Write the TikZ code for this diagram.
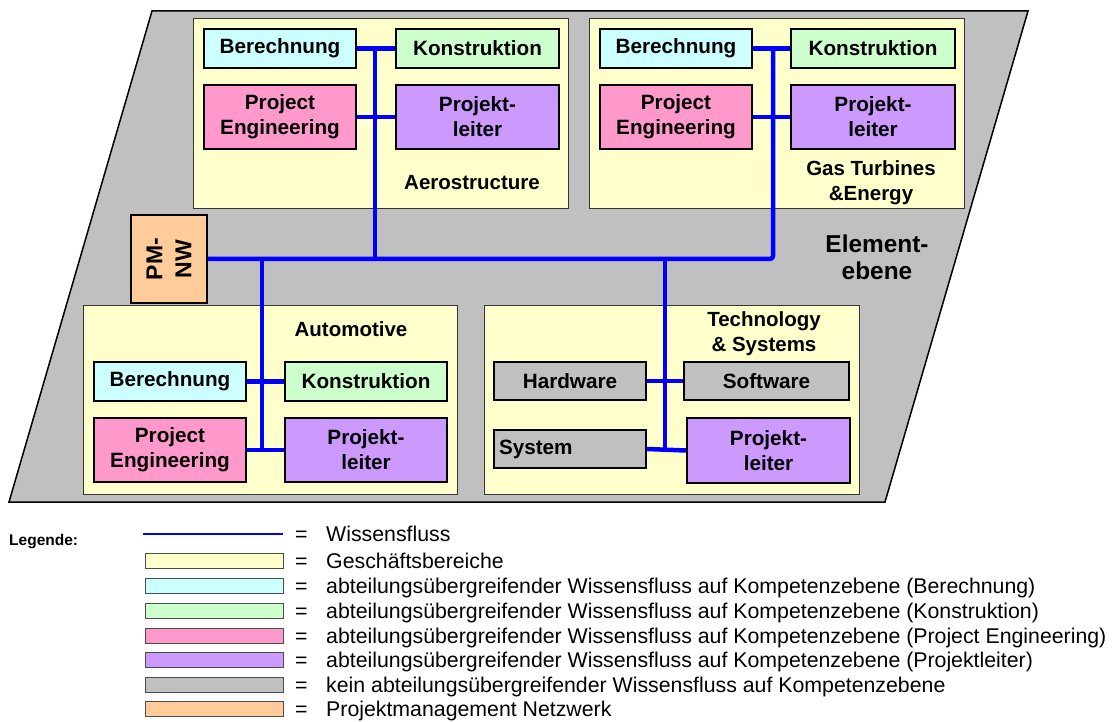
\documentclass[tikz,border=0pt]{standalone}
\usepackage{fontspec}
\setmainfont{Liberation Sans}
\begin{document}
\definecolor{plane}{HTML}{C0C0C0}
\definecolor{bizfill}{HTML}{FFFFCC}
\definecolor{calcfill}{HTML}{CCFFFF}
\definecolor{consfill}{HTML}{CCFFCC}
\definecolor{pefill}{HTML}{FF99CC}
\definecolor{plfill}{HTML}{CC99FF}
\definecolor{pmfill}{HTML}{FFCC99}
\definecolor{flowblue}{HTML}{0000FF}
\begin{tikzpicture}[x=1pt,y=-1pt,
  unit/.style={draw=black, line width=2pt, inner sep=0pt, align=center,
    font=\bfseries\fontsize{20.7}{25}\selectfont},
  biz/.style={draw=black!80, line width=1pt, fill=bizfill},
  lbl/.style={inner sep=0pt, align=center, font=\bfseries\fontsize{20.5}{25}\selectfont},
  flow/.style={draw=flowblue, line width=4.5pt, line join=round},
  legbox/.style={draw=black!70, line width=1pt, minimum width=138pt, minimum height=15pt, inner sep=0pt},
  legtext/.style={anchor=west, inner sep=0pt, text height=15pt, text depth=4.5pt,
    font=\fontsize{21.3}{24}\selectfont}
]
\useasboundingbox (0,0) rectangle (1112,722);

% element plane
\draw[fill=plane, line width=1.5pt, line join=miter] (152,11) -- (1028,11) -- (885,502) -- (9,502) -- cycle;

% business areas
\draw[biz] (193,19) rectangle (568,209);
\draw[biz] (589,19) rectangle (964,209);
\draw[biz] (83,306) rectangle (457,494);
\draw[biz] (484,306) rectangle (859,494);

% Aerostructure
\node[unit, fill=calcfill, minimum width=152pt, minimum height=39pt] (aB) at (280,48.5) {Berechnung};
\node[unit, fill=consfill, minimum width=163pt, minimum height=39pt] (aK) at (477.5,48.5) {Konstruktion};
\node[unit, fill=pefill, minimum width=152pt, minimum height=64pt] (aP) at (280,117) {Project\\Engineering};
\node[unit, fill=plfill, minimum width=163pt, minimum height=64pt] (aL) at (477.5,117) {Projekt-\\leiter};
\node[lbl] (aT) at (472,183) {Aerostructure};

% Gas Turbines & Energy
\node[unit, fill=calcfill, minimum width=152pt, minimum height=39pt] (gB) at (676,48.5) {Berechnung};
\node[unit, fill=consfill, minimum width=164pt, minimum height=39pt] (gK) at (873,48.5) {Konstruktion};
\node[unit, fill=pefill, minimum width=152pt, minimum height=64pt] (gP) at (676,117) {Project\\Engineering};
\node[unit, fill=plfill, minimum width=164pt, minimum height=64pt] (gL) at (873,117) {Projekt-\\leiter};
\node[lbl] (gT) at (871,183) {Gas Turbines\\\&Energy};

% Automotive
\node[unit, fill=calcfill, minimum width=152pt, minimum height=39pt] (uB) at (170,381.5) {Berechnung};
\node[unit, fill=consfill, minimum width=162pt, minimum height=39pt] (uK) at (366,381.5) {Konstruktion};
\node[unit, fill=pefill, minimum width=152pt, minimum height=64pt] (uP) at (170,450) {Project\\Engineering};
\node[unit, fill=plfill, minimum width=162pt, minimum height=64pt] (uL) at (366,450) {Projekt-\\leiter};
\node[lbl] (uT) at (351,329) {Automotive};

% Technology & Systems
\node[unit, fill=plane, minimum width=152pt, minimum height=38pt] (tH) at (570,381) {Hardware};
\node[unit, fill=plane, minimum width=165pt, minimum height=38pt] (tS) at (766.5,381) {Software};
\node[unit, fill=plane, minimum width=152pt, minimum height=38pt, text width=142pt, align=left] (tY) at (570,449) {System};
\node[unit, fill=plfill, minimum width=163pt, minimum height=65pt] (tL) at (768.5,450.5) {Projekt-\\leiter};
\node[lbl] (tT) at (764,334) {Technology\\\& Systems};

% project management network
\node[unit, fill=pmfill, minimum width=88pt, minimum height=76pt, rotate=90,
  font=\bfseries\fontsize{23}{29}\selectfont] (pm) at (169,259) {PM-\\NW};

% plane label
\node[lbl, font=\bfseries\fontsize{24.4}{27}\selectfont] (ee) at (877,257) {Element-\\ebene};

% junctions of the knowledge flow
\coordinate (aTop) at (375,48.5);
\coordinate (aJ) at (375,259);
\coordinate (gTop) at (773,48.5);
\coordinate (gJ) at (773,259);
\coordinate (uJ) at (262,259);
\coordinate (uEnd) at (262,450);
\coordinate (tJ) at (665,259);
\coordinate (tEnd) at (665,449);

% knowledge flow
\draw[flow] (aB.east) -- (aK.west);
\draw[flow] (aP.east) -- (aL.west);
\draw[flow] (aTop) -- (aJ);
\draw[flow] (gB.east) -- (gK.west);
\draw[flow] (gP.east) -- (gL.west);
\draw[flow, rounded corners=3pt] (pm.south) -- (gJ) -- (gTop);
\draw[flow] (uJ) -- (uEnd);
\draw[flow] (uB.east) -- (uK.west);
\draw[flow] (uP.east) -- (uL.west);
\draw[flow] (tJ) -- (tEnd);
\draw[flow] (tH.east) -- (tS.west);
\draw[flow] (tY.east) -- (tL.west);

% legend
\node[anchor=west, inner sep=0pt, font=\bfseries\fontsize{15.5}{18}\selectfont] (leg) at (9,542) {Legende:};
\coordinate (lA) at (143,534);
\coordinate (lB) at (283,534);
\draw[draw=flowblue, line width=2pt] (lA) -- (lB);
\node[legbox, fill=bizfill] (l1) at (214,561) {};
\node[legbox, fill=calcfill] (l2) at (214,586) {};
\node[legbox, fill=consfill] (l3) at (214,611) {};
\node[legbox, fill=pefill] (l4) at (214,636) {};
\node[legbox, fill=plfill] (l5) at (214,660) {};
\node[legbox, fill=plane] (l6) at (214,685) {};
\node[legbox, fill=pmfill] (l7) at (214,709) {};
\foreach \y/\t in {534/Wissensfluss, 561/Geschäftsbereiche,
  586/abteilungsübergreifender Wissensfluss auf Kompetenzebene (Berechnung),
  611/abteilungsübergreifender Wissensfluss auf Kompetenzebene (Konstruktion),
  636/abteilungsübergreifender Wissensfluss auf Kompetenzebene (Project Engineering),
  660/abteilungsübergreifender Wissensfluss auf Kompetenzebene (Projektleiter),
  685/kein abteilungsübergreifender Wissensfluss auf Kompetenzebene,
  709/Projektmanagement Netzwerk} {
  \node[legtext] (eq\y) at (295,\y+2) {=};
  \node[legtext] (tx\y) at (326,\y+2) {\t};
}
\end{tikzpicture}
\end{document}
